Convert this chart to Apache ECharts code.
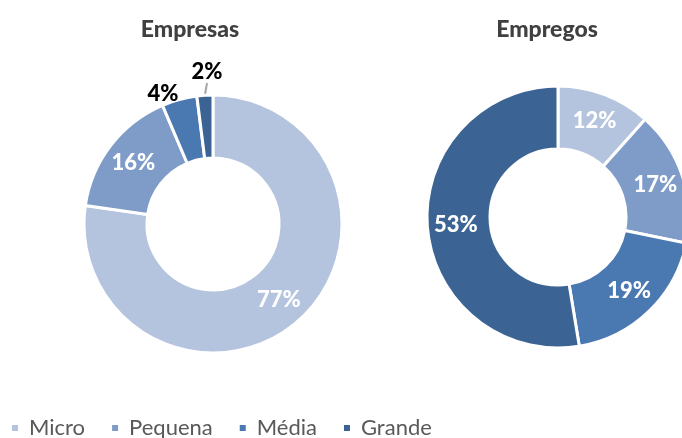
<!DOCTYPE html>
<html>
<head>
<meta charset="utf-8">
<script src="https://cdn.jsdelivr.net/npm/echarts@6/dist/echarts.min.js"></script>
<style>
  html, body { margin: 0; padding: 0; background: #fff; }
  #chart { width: 682px; height: 438px; }
</style>
</head>
<body>
<div id="chart"></div>
<script>
var categories = ["Micro", "Pequena", "Média", "Grande"];
var empresas = [77.3, 16.3, 4.4, 2.0];
var empregos = [11.6, 16.6, 19.2, 52.6];
var colors = ["#B4C3DE", "#7F9CC8", "#4A78B0", "#3B6494"];

var chartDom = document.getElementById("chart");
var myChart = echarts.init(chartDom);
var font = "Lato, 'Open Sans', sans-serif";

function pct(p) {
  return Math.round(p.value) + "%";
}

var insideLabel = {
  show: true,
  position: "inside",
  color: "#fff",
  fontFamily: font,
  fontWeight: 900,
  fontSize: 22,
  formatter: pct,
};

var outsideLabel = {
  show: true,
  position: "outside",
  color: "#000",
  fontFamily: font,
  fontWeight: 900,
  fontSize: 22,
  formatter: pct,
};

var empresasData = categories.map(function (c, i) {
  var d = { name: c, value: empresas[i] };
  if (i === 2) {
    d.label = outsideLabel;
    d.labelLine = { show: false };
  }
  if (i === 3) {
    d.label = outsideLabel;
    d.labelLine = { show: true, length: 8, length2: 0, lineStyle: { color: "#A6A6A6", width: 2 } };
  }
  return d;
});

var empregosData = categories.map(function (c, i) {
  return { name: c, value: empregos[i] };
});

// hand placement of the two small outside labels, like the original
var outsidePos = { 2: [163, 94], 3: [207, 72] };

var option = {
  color: colors,
  animation: false,
  title: [
    {
      text: "Empresas",
      left: 185,
      top: 13,
      textAlign: "center",
      textStyle: { fontFamily: font, fontWeight: 900, fontSize: 23, color: "#404040" },
    },
    {
      text: "Empregos",
      left: 542,
      top: 13,
      textAlign: "center",
      textStyle: { fontFamily: font, fontWeight: 900, fontSize: 23, color: "#404040" },
    },
  ],
  legend: {
    data: categories,
    left: 5,
    bottom: -6,
    icon: "rect",
    itemWidth: 8,
    itemHeight: 8,
    itemGap: 25,
    textStyle: { fontFamily: font, fontSize: 22, color: "#595959", padding: [0, 0, 0, 5] },
  },
  series: [
    {
      name: "Empresas",
      type: "pie",
      center: [213, 224],
      radius: [66, 129],
      startAngle: 90,
      label: insideLabel,
      labelLine: { show: false },
      labelLayout: function (params) {
        var p = outsidePos[params.dataIndex];
        if (!p) return {};
        return { x: p[0], y: p[1], align: "center", verticalAlign: "middle" };
      },
      itemStyle: { borderColor: "#fff", borderWidth: 3 },
      data: empresasData,
    },
    {
      name: "Empregos",
      type: "pie",
      center: [558, 217],
      radius: [68, 131],
      startAngle: 90,
      label: insideLabel,
      labelLine: { show: false },
      itemStyle: { borderColor: "#fff", borderWidth: 3 },
      data: empregosData,
    },
  ],
};

option && myChart.setOption(option);
</script>
</body>
</html>
